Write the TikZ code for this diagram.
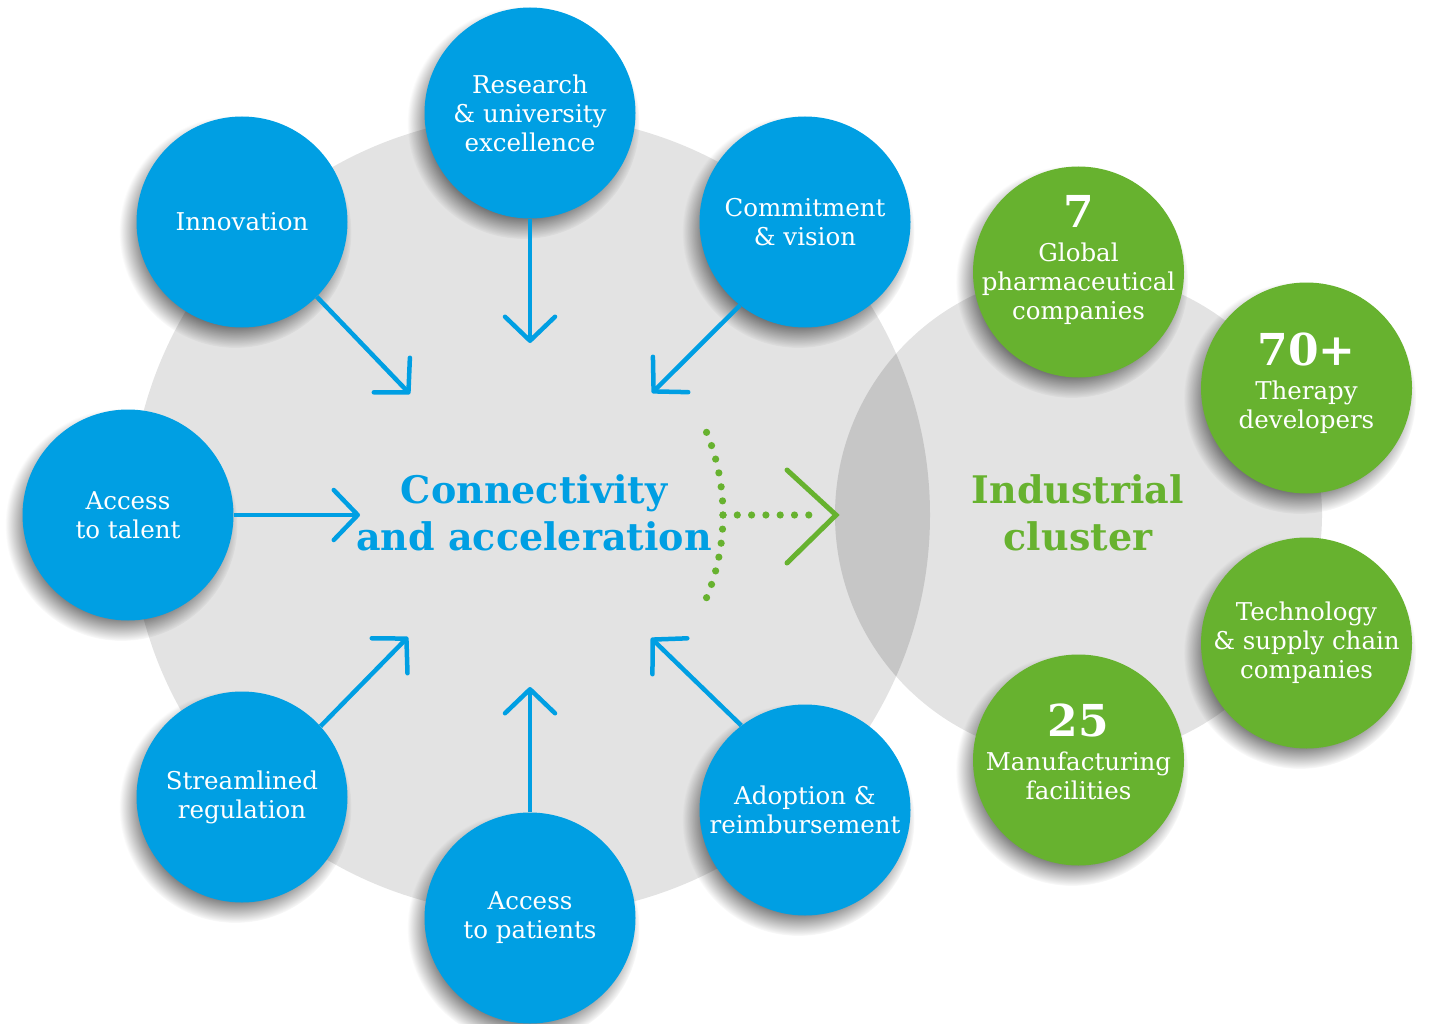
\documentclass[tikz,border=0pt]{standalone}
\usepackage{fontspec}
\setmainfont{DejaVu Serif}
\usetikzlibrary{arrows.meta,shadows,fadings}

\definecolor{cblue}{HTML}{009FE3}
\definecolor{cgreen}{HTML}{67B22F}
\definecolor{lgrey}{HTML}{E3E3E3}
\definecolor{dgrey}{HTML}{C6C6C6}

\newcommand{\bignum}[1]{{\fontsize{44}{44}\selectfont\bfseries #1}}

\tikzset{
  btxt/.style={inner sep=0pt,text=white,align=center,font=\fontsize{24.5}{29}\selectfont},
  bubble/.style={circle,minimum size=211pt,btxt,
    general shadow={fill=black,opacity=.5,path fading=circle with fuzzy edge 20 percent,
      shadow xshift=-6pt,shadow yshift=-9pt,shadow scale=1.1}},
  driver/.style={bubble,fill=cblue},
  asset/.style={bubble,fill=cgreen},
  feed/.style={draw=cblue,line width=4.5pt,-{Straight Barb[length=24pt,width=50pt,round]}},
  headline/.style={align=center,font=\fontsize{38}{47}\selectfont\bfseries},
  gdots/.style={draw=cgreen,line width=7.2pt,line cap=round,dash pattern=on 0pt off 14.3pt},
  chevron/.style={draw=cgreen,line width=5pt,line cap=round}
}

\begin{document}
\begin{tikzpicture}[x=1pt,y=-1pt]
  \useasboundingbox (0,0) rectangle (1431,1024);
  \coordinate (hub) at (530,515);
  \coordinate (clu) at (1078.5,515);

  % the two discs and their overlap
  \fill[lgrey] (hub) circle[radius=400pt];
  \fill[lgrey] (clu) circle[radius=243.5pt];
  \begin{scope}
    \clip (hub) circle[radius=400pt];
    \fill[dgrey] (clu) circle[radius=243.5pt];
  \end{scope}

  % drivers
  \node[driver] (res) at (530,113)   {Research\\\& university\\excellence};
  \node[driver] (inn) at (242,222)   {Innovation};
  \node[driver] (com) at (805,222)   {Commitment\\\& vision};
  \node[driver] (tal) at (128,515)   {Access\\to talent};
  \node[driver] (str) at (242,797)   {Streamlined\\regulation};
  \node[driver] (pat) at (530,918)   {Access\\to patients};
  \node[driver] (ado) at (805,810)   {Adoption \&\\reimbursement};

  % cluster
  \node[asset] (pha) at (1078.5,272) {};
  \node[asset] (the) at (1306.5,388) {};
  \node[asset] (tec) at (1306.5,643) {Technology\\\& supply chain\\companies};
  \node[asset] (man) at (1078.5,760) {};
  \node[btxt,yshift=11.5pt] (pha-t) at (pha) {\bignum{7}\\[5pt]Global\\pharmaceutical\\companies};
  \node[btxt,yshift=4.5pt]  (the-t) at (the) {\bignum{70+}\\[5pt]Therapy\\developers};
  \node[btxt,yshift=8.5pt]  (man-t) at (man) {\bignum{25}\\[5pt]Manufacturing\\facilities};

  \node[headline,text=cblue]  (con) at (534,513) {Connectivity\\and acceleration};
  \node[headline,text=cgreen] (ind) at (1078,513) {Industrial\\cluster};

  % arrow ends
  \coordinate (tres) at (530,343);
  \coordinate (tinn) at (410,394);
  \coordinate (tcom) at (652,393);
  \coordinate (ttal) at (360,515);
  \coordinate (tstr) at (408,637);
  \coordinate (tpat) at (530,687);
  \coordinate (tado) at (651,638);

  \draw[feed] (res.south) -- (tres);
  \draw[feed] (inn.315)   -- (tinn);
  \draw[feed] (com.232)   -- (tcom);
  \draw[feed] (tal.east)  -- (ttal);
  \draw[feed] (str.42)    -- (tstr);
  \draw[feed] (pat.north) -- (tpat);
  \draw[feed] (ado.127)   -- (tado);

  % green hand-over
  \coordinate (arcc) at (507,515);
  \coordinate (gmid) at (723,515);
  \coordinate (gend) at (810,515);
  \coordinate (gtip) at (836,515);
  \foreach \a in {-22.5,-18.75,...,22.6}
    \fill[cgreen] (arcc) ++(\a:216) circle[radius=3.6pt];
  \draw[gdots] (gmid) -- (gend);
  \draw[chevron] ([shift={(-49,-45)}]gtip) -- (gtip) -- ([shift={(-49,48)}]gtip);
\end{tikzpicture}
\end{document}
